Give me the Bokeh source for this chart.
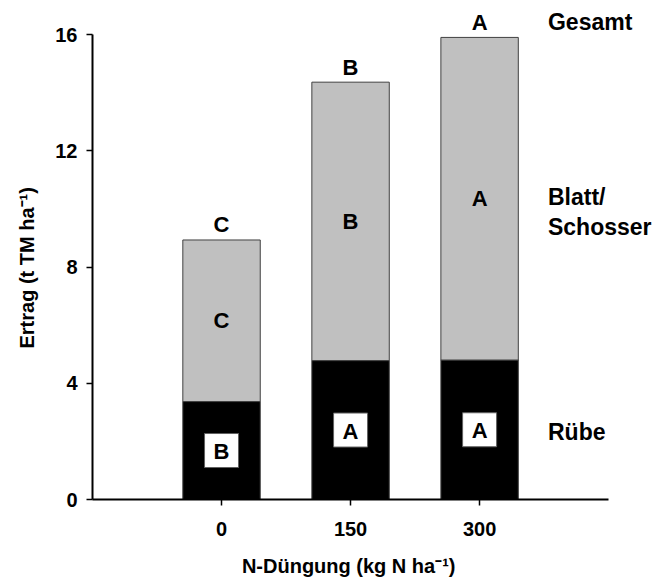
from bokeh.plotting import figure
from bokeh.models import ColumnDataSource, FixedTicker, Title
from bokeh.core.properties import value
from bokeh.embed import file_html
from bokeh.resources import INLINE

# Yield by N fertilisation level (t dry matter per ha)
n_levels = ["0", "150", "300"]
ruebe = [3.37, 4.78, 4.80]          # beet
gesamt = [8.93, 14.36, 15.90]       # total (beet + leaves/bolters)
blatt = [g - r for g, r in zip(gesamt, ruebe)]

# Significance letters
letters_gesamt = ["C", "B", "A"]
letters_blatt = ["C", "B", "A"]
letters_ruebe = ["B", "A", "A"]

series_labels = ["Gesamt", "Blatt/\nSchosser", "Rübe"]
x_title = "N-Düngung (kg N ha⁻¹)"
y_title = "Ertrag (t TM ha⁻¹)"
y_ticks = [0, 4, 8, 12, 16]

FONT = value("Liberation Sans")
xs = list(range(len(n_levels)))

p = figure(width=660, height=583, output_backend="svg", toolbar_location=None,
           x_range=(-1, 3.402), y_range=(0, 17.17),
           min_border_left=91, min_border_right=0, min_border_top=0,
           min_border_bottom=84)
p.outline_line_color = None
p.xgrid.visible = False
p.ygrid.visible = False

src = ColumnDataSource(dict(
    x=xs, ruebe=ruebe, gesamt=gesamt,
    mid_r=[r / 2 for r in ruebe],
    mid_b=[r + b / 2 for r, b in zip(ruebe, blatt)],
    lg=letters_gesamt, lb=letters_blatt, lr=letters_ruebe,
))

# Stacked bars
p.vbar(x="x", bottom=0, top="ruebe", width=0.6, source=src,
       fill_color="black", line_color="#404040", line_width=1)
p.vbar(x="x", bottom="ruebe", top="gesamt", width=0.6, source=src,
       fill_color="#c0c0c0", line_color="#404040", line_width=1)

# Letters above bars
p.text(x="x", y="gesamt", text="lg", source=src, text_font=FONT,
       text_font_style="bold", text_font_size="22px", text_color="black",
       text_align="center", text_baseline="middle", y_offset=-15)
# Letters in the leaf/bolter segment
p.text(x="x", y="mid_b", text="lb", source=src, text_font=FONT,
       text_font_style="bold", text_font_size="22px", text_color="black",
       text_align="center", text_baseline="middle")
# Boxed letters in the beet segment
p.rect(x="x", y="mid_r", width=34, height=34, width_units="screen",
       height_units="screen", source=src, fill_color="white",
       line_color="#606060", line_width=1)
p.text(x="x", y="mid_r", text="lr", source=src, text_font=FONT,
       text_font_style="bold", text_font_size="22px", text_color="black",
       text_align="center", text_baseline="middle", y_offset=1)

# Series names at the right
last = len(n_levels) - 1
lab_x = last + 0.53
p.text(x=[lab_x], y=[gesamt[last]], text=[series_labels[0]], text_font=FONT,
       text_font_style="bold", text_font_size="23px", text_color="black",
       text_align="left", text_baseline="middle", y_offset=-15)
p.text(x=[lab_x], y=[ruebe[last] + blatt[last] / 2], text=[series_labels[1]],
       text_font=FONT, text_font_style="bold", text_font_size="23px",
       text_color="black", text_align="left", text_baseline="middle",
       y_offset=13, text_line_height=1.15)
p.text(x=[lab_x], y=[ruebe[last] / 2], text=[series_labels[2]], text_font=FONT,
       text_font_style="bold", text_font_size="23px", text_color="black",
       text_align="left", text_baseline="middle", y_offset=2)

# Axes
p.xaxis.ticker = FixedTicker(ticks=xs)
p.xaxis.major_label_overrides = {i: lab for i, lab in enumerate(n_levels)}
p.xaxis.bounds = (-1, 3)
p.yaxis.ticker = FixedTicker(ticks=y_ticks)
p.yaxis.bounds = (y_ticks[0], y_ticks[-1])

for ax in (p.xaxis[0], p.yaxis[0]):
    ax.axis_line_width = 2
    ax.axis_line_color = "black"
    ax.major_tick_line_color = "black"
    ax.major_tick_line_width = 1.5
    ax.major_tick_out = 6
    ax.major_tick_in = 0
    ax.minor_tick_line_color = None
    ax.major_label_text_font = "Liberation Sans"
    ax.major_label_text_font_style = "bold"
    ax.major_label_text_font_size = "20px"
    ax.major_label_text_color = "black"

p.xaxis.major_label_standoff = 16
p.yaxis.major_label_standoff = 9

# x title: trailing no-break spaces move its centre under the middle bar
p.xaxis.axis_label = x_title + "\u00a0" * 10
p.xaxis.axis_label_text_font = "Liberation Sans"
p.xaxis.axis_label_text_font_style = "bold"
p.xaxis.axis_label_text_font_size = "20px"
p.xaxis.axis_label_text_color = "black"
p.xaxis.axis_label_standoff = 16

# y title centred on the tick span
p.add_layout(Title(text=y_title, align="left", offset=151,
                   vertical_align="middle",
                   text_font="Liberation Sans", text_font_style="bold",
                   text_font_size="20px", text_color="black",
                   standoff=28), "left")

open("out.html", "w").write(file_html(p, INLINE))
